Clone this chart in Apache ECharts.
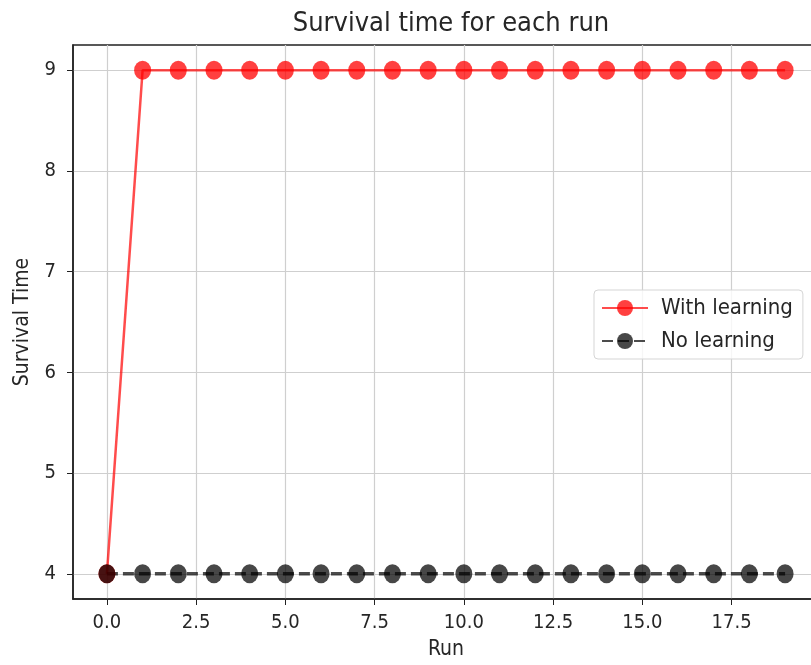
<!DOCTYPE html>
<html>
<head>
<meta charset="utf-8">
<script src="https://cdn.jsdelivr.net/npm/echarts@6/dist/echarts.min.js"></script>
<style>
  html, body { margin: 0; padding: 0; background: #fff; overflow: hidden; }
  #chart { width: 830px; height: 665px; }
</style>
</head>
<body>
<div id="chart"></div>
<script>
// values
const runs = [0, 1, 2, 3, 4, 5, 6, 7, 8, 9, 10, 11, 12, 13, 14, 15, 16, 17, 18, 19]
const withLearning = [4, 9, 9, 9, 9, 9, 9, 9, 9, 9, 9, 9, 9, 9, 9, 9, 9, 9, 9, 9]
const noLearning = [4, 4, 4, 4, 4, 4, 4, 4, 4, 4, 4, 4, 4, 4, 4, 4, 4, 4, 4, 4]
const xTicks = [0, 2.5, 5, 7.5, 10, 12.5, 15, 17.5]
const yTicks = [4, 5, 6, 7, 8, 9]

// the reference image is squeezed sideways, a condensed face mimics that
const font = '"DejaVu Sans Condensed", "DejaVu Sans"'
const textColor = '#262626'

function pairs(ys) {
  return runs.map((r, i) => [r, ys[i]])
}

const chart = echarts.init(document.getElementById('chart'))

chart.setOption({
  animation: false,
  backgroundColor: '#fff',
  textStyle: { fontFamily: font, color: textColor },
  title: {
    text: 'Survival time for each run',
    left: 446,
    textAlign: 'center',
    top: 5,
    textStyle: { fontFamily: font, fontSize: 27, fontWeight: 'normal', color: textColor }
  },
  // plot runs past the right edge of the picture, like the cropped original
  grid: {
    left: 73, right: 11, top: 45, bottom: 64,
    show: true, borderColor: '#222', borderWidth: 1.5
  },
  legend: {
    left: 594, top: 290,
    orient: 'vertical',
    itemWidth: 46, itemHeight: 20, itemGap: 11,
    padding: [7, 10, 7, 7],
    borderColor: '#d5d5d5', borderWidth: 1, borderRadius: 4,
    backgroundColor: 'rgba(255,255,255,0.8)',
    textStyle: { fontFamily: font, fontSize: 22, color: textColor, padding: [0, 0, 0, 8] }
  },
  xAxis: {
    type: 'value',
    min: -0.95, max: 19.95,
    name: 'Run', nameLocation: 'middle', nameGap: 40,
    nameTextStyle: { fontFamily: font, fontSize: 21, color: textColor },
    axisLine: { show: true, onZero: false, lineStyle: { color: '#222', width: 1.5 } },
    axisTick: { show: true, customValues: xTicks, length: 6, lineStyle: { color: '#222' } },
    axisLabel: {
      customValues: xTicks, margin: 14,
      fontFamily: font, fontSize: 20, color: textColor,
      formatter: v => v.toFixed(1)
    },
    splitLine: { show: true, lineStyle: { color: '#cfcfcf', width: 1.2 } }
  },
  yAxis: {
    type: 'value',
    min: 3.75, max: 9.25,
    name: 'Survival Time', nameLocation: 'middle', nameGap: 40, nameRotate: 90,
    nameTextStyle: { fontFamily: font, fontSize: 21, color: textColor },
    axisLine: { show: true, onZero: false, lineStyle: { color: '#222', width: 1.5 } },
    axisTick: { show: true, customValues: yTicks, length: 6, lineStyle: { color: '#222' } },
    axisLabel: {
      customValues: yTicks, margin: 17,
      fontFamily: font, fontSize: 20, color: textColor
    },
    splitLine: { show: true, lineStyle: { color: '#cfcfcf', width: 1.2 } }
  },
  series: [
    {
      name: 'With learning',
      type: 'line',
      data: pairs(withLearning),
      symbol: 'circle', symbolSize: [17, 19],
      lineStyle: { color: 'rgba(255,0,0,0.7)', width: 2.5 },
      itemStyle: { color: 'rgba(255,0,0,0.75)' }
    },
    {
      name: 'No learning',
      type: 'line',
      data: pairs(noLearning),
      symbol: 'circle', symbolSize: [17, 19],
      lineStyle: { color: 'rgba(0,0,0,0.7)', width: 3.5, type: [11, 5] },
      itemStyle: { color: 'rgba(0,0,0,0.72)' }
    }
  ]
})
</script>
</body>
</html>
